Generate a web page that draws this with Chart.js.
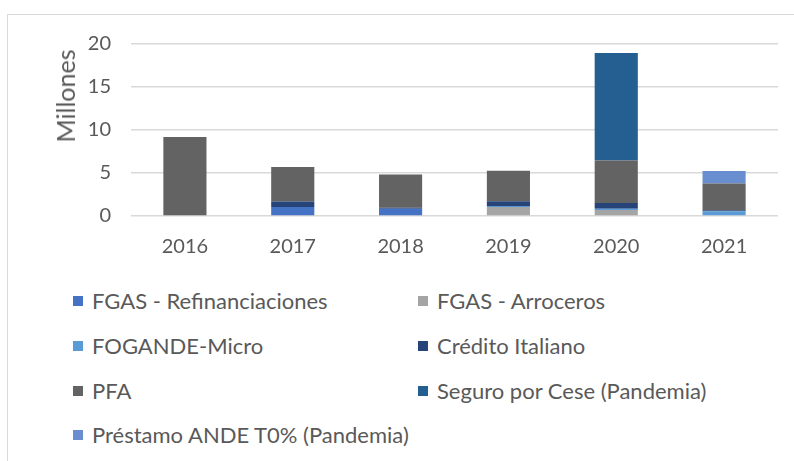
<!DOCTYPE html>
<html>
<head>
<meta charset="utf-8">
<script src="https://cdn.jsdelivr.net/npm/chart.js@4/dist/chart.umd.min.js"></script>
<style>
  html, body { margin: 0; padding: 0; background: #fff; }
  #wrap { position: relative; width: 794px; height: 461px; overflow: hidden; font-family: Lato, "Open Sans", sans-serif; }
  #frame { position: absolute; left: 7px; top: 14px; width: 900px; height: 600px; border: 1.5px solid #d9d9d9; box-sizing: border-box; }
  #c { position: absolute; left: 0; top: 0; }
  #ytitle { position: absolute; left: 65px; top: 96px; transform: translate(-50%, -50%) rotate(-90deg); font-size: 25px; color: #595959; white-space: nowrap; line-height: 26px; }
  .lg { position: absolute; display: flex; align-items: center; font-size: 22px; color: #595959; white-space: nowrap; line-height: 22px; }
  .lg .bx { width: 10px; height: 10px; margin-right: 9px; flex: none; }
</style>
</head>
<body>
<div id="wrap">
  <div id="frame"></div>
  <canvas id="c" width="794" height="265"></canvas>
  <div id="ytitle"></div>
  <div id="legend"></div>
</div>
<script>
const categories = ['2016', '2017', '2018', '2019', '2020', '2021'];
const seriesNames = ['FGAS - Refinanciaciones', 'FGAS - Arroceros', 'FOGANDE-Micro', 'Crédito Italiano', 'PFA', 'Seguro por Cese (Pandemia)', 'Préstamo ANDE T0% (Pandemia)'];
const fgasRefinanciaciones = [0, 1.05, 0.85, 0, 0.1, 0];
const fgasArroceros       = [0, 0, 0, 1.05, 0.6, 0];
const fogandeMicro        = [0, 0, 0, 0.12, 0.15, 0.55];
const creditoItaliano     = [0, 0.65, 0.12, 0.55, 0.65, 0.12];
const pfa                 = [9.2, 4.0, 3.87, 3.55, 4.95, 3.1];
const seguroPorCese       = [0, 0, 0, 0, 12.5, 0];
const prestamoAnde        = [0, 0, 0, 0, 0, 1.45];
const yTicks = [0, 5, 10, 15, 20];
const yTitle = 'Millones';
const colors = ['#4472C4', '#A5A5A5', '#5B9BD5', '#264478', '#636363', '#255E91', '#698ED0'];

const seriesValues = [fgasRefinanciaciones, fgasArroceros, fogandeMicro, creditoItaliano, pfa, seguroPorCese, prestamoAnde];

const datasets = seriesNames.map((n, i) => ({
  label: n,
  data: seriesValues[i],
  backgroundColor: colors[i],
  borderWidth: 0,
  categoryPercentage: 1.0,
  barPercentage: 0.4
}));

const FONT = 'Lato, "Open Sans", sans-serif';

const chart = new Chart(document.getElementById('c'), {
  type: 'bar',
  data: { labels: categories, datasets },
  options: {
    responsive: false,
    animation: false,
    layout: { padding: { top: 44, right: 16, left: 0, bottom: 0 } },
    plugins: { legend: { display: false }, tooltip: { enabled: false } },
    scales: {
      x: {
        stacked: true,
        grid: { display: false, drawTicks: false },
        border: { display: false },
        ticks: { color: '#595959', font: { family: FONT, size: 20 }, padding: 19 },
        afterFit: s => { s.height = 265 - 216; }
      },
      y: {
        stacked: true,
        min: 0, max: 20,
        afterBuildTicks: s => { s.ticks = yTicks.map(v => ({ value: v })); },
        grid: { color: '#d9d9d9', lineWidth: 1.5, drawTicks: false },
        border: { display: false },
        ticks: { color: '#595959', font: { family: FONT, size: 20 }, padding: 20 },
        afterFit: s => { s.width = 131; }
      }
    }
  }
});

document.getElementById('ytitle').textContent = yTitle;

// HTML legend built from chart datasets, two columns
const legend = document.getElementById('legend');
const colX = [73, 418];
const rowY = [301, 346, 391, 435];
chart.data.datasets.forEach((ds, i) => {
  const el = document.createElement('div');
  el.className = 'lg';
  el.style.left = colX[i % 2] + 'px';
  el.style.top = (rowY[Math.floor(i / 2)] - 11) + 'px';
  const bx = document.createElement('span');
  bx.className = 'bx';
  bx.style.background = ds.backgroundColor;
  const tx = document.createElement('span');
  tx.textContent = ds.label;
  el.appendChild(bx); el.appendChild(tx);
  legend.appendChild(el);
});
</script>
</body>
</html>
